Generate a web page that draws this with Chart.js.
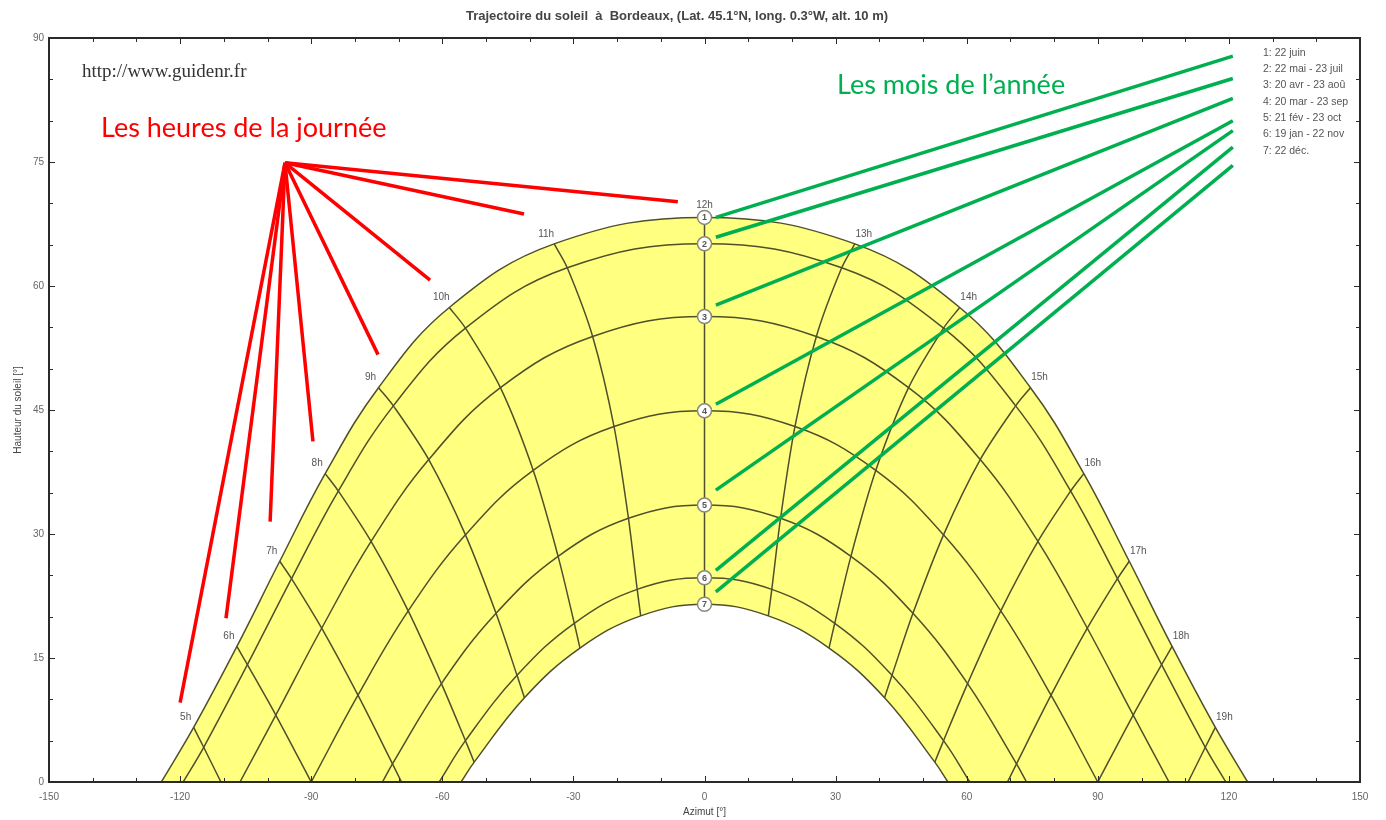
<!DOCTYPE html>
<html>
<head>
<meta charset="utf-8">
<script src="https://cdn.jsdelivr.net/npm/chart.js@4.4.0/dist/chart.umd.min.js"></script>
<style>
  html, body { margin: 0; padding: 0; background: #fff; }
  #wrap { width: 1386px; height: 820px; }
</style>
</head>
<body>
<div id="wrap"><canvas id="sun"></canvas></div>
<script>
// solar hours shown on the chart
const hourLabels = ['5h','6h','7h','8h','9h','10h','11h','12h','13h','14h','15h','16h','17h','18h','19h'];

// azimuth / altitude of the sun at each hour, one pair of arrays per day (null = not drawn)
const day1Az  = [-116.9,-107.0,-97.2,-86.8,-74.6,-58.4,-34.4,0,34.4,58.4,74.6,86.8,97.2,107.0,116.9];
const day1Alt = [6.6,16.4,26.7,37.3,47.7,57.4,65.1,68.3,65.1,57.4,47.7,37.3,26.7,16.4,6.6];
const day2Az  = [-114.6,-104.6,-94.5,-83.8,-71.2,-54.7,-31.4,0,31.4,54.7,71.2,83.8,94.5,104.6,114.6];
const day2Alt = [4.2,14.2,24.6,35.2,45.5,54.9,62.2,65.1,62.2,54.9,45.5,35.2,24.6,14.2,4.2];
const day3Az  = [-108.6,-98.1,-87.6,-76.3,-63.1,-46.7,-25.6,0,25.6,46.7,63.1,76.3,87.6,98.1,108.6];
const day3Alt = [-2.2,8.1,18.6,29.1,39.0,47.7,53.9,56.3,53.9,47.7,39.0,29.1,18.6,8.1,-2.2];
const day4Az  = [-100.8,-90.0,-79.3,-67.8,-54.7,-39.2,-20.7,0,20.7,39.2,54.7,67.8,79.3,90.0,100.8];
const day4Alt = [-10.5,0,10.5,20.7,29.9,37.7,43.0,44.9,43.0,37.7,29.9,20.7,10.5,0,-10.5];
const day5Az  = [null,-81.9,-71.4,-60.2,-47.7,-33.5,-17.4,0,17.4,33.5,47.7,60.2,71.4,81.9,null];
const day5Alt = [null,-8.1,2.2,11.9,20.4,27.3,31.9,33.5,31.9,27.3,20.4,11.9,2.2,-8.1,null];
const day6Az  = [null,null,-65.4,-54.7,-42.9,-29.8,-15.4,0,15.4,29.8,42.9,54.7,65.4,null,null];
const day6Alt = [null,null,-4.2,5.0,12.9,19.2,23.3,24.7,23.3,19.2,12.9,5.0,-4.2,null,null];
const day7Az  = [null,null,-63.1,-52.7,-41.2,-28.5,-14.6,0,14.6,28.5,41.2,52.7,63.1,null,null];
const day7Alt = [null,null,-6.6,2.4,10.2,16.2,20.1,21.5,20.1,16.2,10.2,2.4,-6.6,null,null];

// azimuth of sunrise / sunset (altitude 0) for each day
const riseAz = [124.3,119.3,106.3,90.0,73.7,60.7,55.7];

const dayNames = ['1: 22 juin','2: 22 mai - 23 juil','3: 20 avr - 23 aoû','4: 20 mar - 23 sep',
                  '5: 21 fév - 23 oct','6: 19 jan - 22 nov','7: 22 déc.'];

// red annotation: from one point to the hour labels
const redFrom  = [-96.0, 74.9];
const redToAz  = [-120.0,-109.5,-99.4,-89.6,-74.7,-62.8,-41.3,-6.1];
const redToAlt = [9.6,19.8,31.5,41.2,51.7,60.7,68.7,70.2];

// green annotation: from the legend to each day curve
const greenFromAz  = 120.9;
const greenFromAlt = [87.8,85.1,82.7,80.0,78.8,76.8,74.6];
const greenToAz    = 2.6;
const greenToAlt   = [68.3,65.9,57.7,45.7,35.3,25.6,23.0];

const xTicks = [-150,-120,-90,-60,-30,0,30,60,90,120,150];
const yTicks = [0,15,30,45,60,75,90];

const days = [
  {az: day1Az, alt: day1Alt}, {az: day2Az, alt: day2Alt}, {az: day3Az, alt: day3Alt},
  {az: day4Az, alt: day4Alt}, {az: day5Az, alt: day5Alt}, {az: day6Az, alt: day6Alt},
  {az: day7Az, alt: day7Alt}
];

const curveColor = '#4f4f2a';

function dayCurve(d, rise) {
  const pts = [{x: -rise, y: 0}];
  d.az.forEach((a, i) => {
    if (d.alt[i] !== null && d.alt[i] > 0) pts.push({x: a, y: d.alt[i]});
  });
  pts.push({x: rise, y: 0});
  return pts;
}

function hourLine(i) {
  const pts = [];
  for (const d of days) {
    if (d.alt[i] === null) break;
    pts.push({x: d.az[i], y: d.alt[i]});
    if (d.alt[i] < 0) break;
  }
  return pts;
}

const datasets = [];

// yellow band between summer and winter curves
datasets.push({ data: dayCurve(days[0], riseAz[0]), fill: 'origin', backgroundColor: '#ffff80',
  borderWidth: 0, pointRadius: 0, tension: 0.4, order: 20 });
datasets.push({ data: dayCurve(days[6], riseAz[6]), fill: 'origin', backgroundColor: '#ffffff',
  borderWidth: 0, pointRadius: 0, tension: 0.4, order: 19 });

days.forEach((d, i) => {
  datasets.push({ data: dayCurve(d, riseAz[i]), borderColor: curveColor, borderWidth: 1.5,
    pointRadius: 0, tension: 0.4, fill: false, order: 5 });
});

hourLabels.forEach((h, i) => {
  datasets.push({ data: hourLine(i), borderColor: curveColor, borderWidth: 1.5,
    pointRadius: 0, tension: 0.3, fill: false, order: 5 });
});

// numbered markers at noon
datasets.push({ data: days.map(d => ({x: d.az[7], y: d.alt[7]})), showLine: false,
  pointRadius: 7, pointBackgroundColor: '#ffffff', pointBorderColor: '#8a8a7a', pointBorderWidth: 1.5,
  order: 1 });

redToAz.forEach((a, i) => {
  datasets.push({ data: [{x: redFrom[0], y: redFrom[1]}, {x: a, y: redToAlt[i]}],
    borderColor: '#ff0000', borderWidth: 3.5, pointRadius: 0, fill: false, order: 0, clip: false });
});
greenFromAlt.forEach((v, i) => {
  datasets.push({ data: [{x: greenFromAz, y: v}, {x: greenToAz, y: greenToAlt[i]}],
    borderColor: '#00b050', borderWidth: 3.5, pointRadius: 0, fill: false, order: 0, clip: false });
});

const decor = {
  id: 'decor',
  beforeDraw(chart) {
    const c = chart.ctx;
    c.save();
    c.fillStyle = '#fff';
    c.fillRect(0, 0, chart.width, chart.height);
    c.restore();
  },
  afterDatasetsDraw(chart) {
    const c = chart.ctx, xs = chart.scales.x, ys = chart.scales.y, a = chart.chartArea;
    c.save();
    // numbers in the noon circles
    c.font = 'bold 9px "Liberation Sans", Arial';
    c.fillStyle = '#555';
    c.textAlign = 'center';
    c.textBaseline = 'middle';
    days.forEach((d, i) => {
      c.fillText(String(i + 1), xs.getPixelForValue(d.az[7]), ys.getPixelForValue(d.alt[7]) + 0.5);
    });
    // hour labels along the summer curve
    c.font = '10px "Liberation Sans", Arial';
    c.fillStyle = '#555';
    hourLabels.forEach((h, i) => {
      const px = xs.getPixelForValue(day1Az[i]);
      const py = ys.getPixelForValue(day1Alt[i]);
      const dx = day1Az[i] < 0 ? -8 : (day1Az[i] > 0 ? 9 : 0);
      c.fillText(h, px + dx, py - (i === 7 ? 12 : 10));
    });

    // frame
    c.strokeStyle = '#2a2a2a';
    c.lineWidth = 2;
    c.strokeRect(a.left, a.top, a.right - a.left, a.bottom - a.top);
    c.lineWidth = 1;
    for (let v = -150; v <= 150; v += 10) {
      const px = Math.round(xs.getPixelForValue(v)) + 0.5;
      const len = v % 30 === 0 ? 6 : 4;
      c.beginPath();
      c.moveTo(px, a.bottom); c.lineTo(px, a.bottom - len);
      c.moveTo(px, a.top); c.lineTo(px, a.top + len);
      c.stroke();
    }
    for (let v = 0; v <= 90; v += 5) {
      const py = Math.round(ys.getPixelForValue(v)) + 0.5;
      const len = v % 15 === 0 ? 6 : 4;
      c.beginPath();
      c.moveTo(a.left, py); c.lineTo(a.left + len, py);
      c.moveTo(a.right, py); c.lineTo(a.right - len, py);
      c.stroke();
    }

    // title and axis titles
    c.fillStyle = '#444';
    c.font = 'bold 13px "Liberation Sans", Arial';
    c.textAlign = 'center';
    c.fillText('Trajectoire du soleil  à  Bordeaux, (Lat. 45.1°N, long. 0.3°W, alt. 10 m)', 677, 16);
    c.font = '10px "Liberation Sans", Arial';
    c.fillText('Azimut [°]', xs.getPixelForValue(0), 812);
    c.save();
    c.translate(18, (a.top + a.bottom) / 2);
    c.rotate(-Math.PI / 2);
    c.fillText('Hauteur du soleil [°]', 0, 0);
    c.restore();

    // legend of days
    c.textAlign = 'left';
    c.fillStyle = '#555';
    c.font = '10.5px "Liberation Sans", Arial';
    dayNames.forEach((n, i) => c.fillText(n, 1263, 53 + i * 16.3));

    // annotations
    c.font = '19px "Liberation Serif", "Times New Roman", serif';
    c.fillStyle = '#333';
    c.fillText('http://www.guidenr.fr', 82, 72);
    c.font = '27px Lato, "Open Sans", sans-serif';
    c.fillStyle = '#ff0000';
    c.fillText('Les heures de la journée', 101, 128);
    c.fillStyle = '#00b050';
    c.fillText('Les mois de l\u2019année', 837, 85);
    c.restore();
  }
};

new Chart(document.getElementById('sun'), {
  type: 'line',
  data: { datasets: datasets },
  options: {
    responsive: true,
    maintainAspectRatio: false,
    animation: false,
    layout: { padding: { left: 0, right: 26, top: 38, bottom: 0 } },
    plugins: { legend: { display: false }, tooltip: { enabled: false } },
    scales: {
      x: {
        type: 'linear', min: -150, max: 150,
        afterFit: s => { s.height = 38; },
        afterBuildTicks: s => { s.ticks = xTicks.map(v => ({value: v})); },
        grid: { display: false, drawTicks: false },
        border: { display: false },
        ticks: { padding: 9, color: '#666', font: { size: 10, family: '"Liberation Sans", Arial' } }
      },
      y: {
        min: 0, max: 90,
        afterFit: s => { s.width = 49; },
        afterBuildTicks: s => { s.ticks = yTicks.map(v => ({value: v})); },
        grid: { display: false, drawTicks: false },
        border: { display: false },
        ticks: { padding: 5, color: '#666', font: { size: 10, family: '"Liberation Sans", Arial' } }
      }
    }
  },
  plugins: [decor]
});
</script>
</body>
</html>
